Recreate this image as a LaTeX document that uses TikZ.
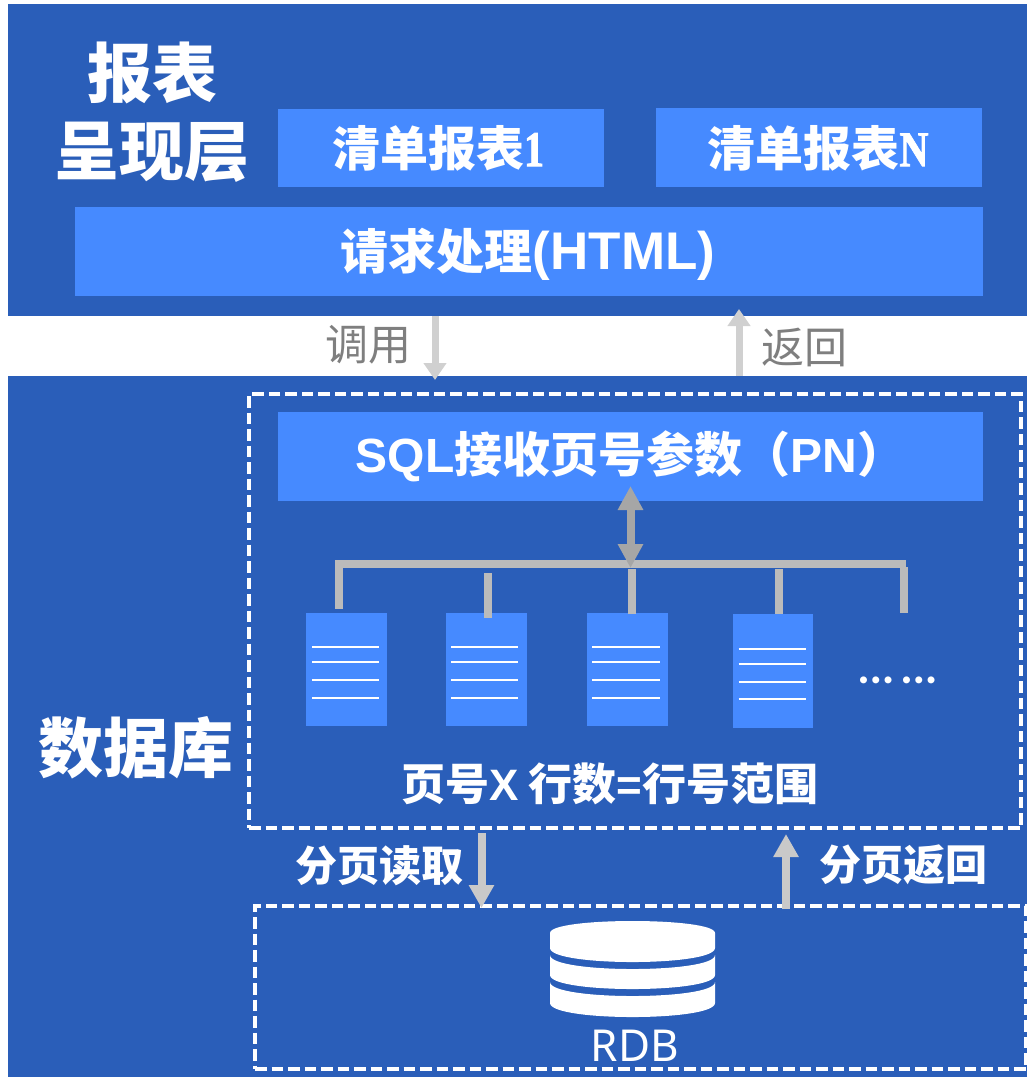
\documentclass[tikz,border=0pt]{standalone}
\usepackage{fontspec}
\usetikzlibrary{arrows.meta}
\setmainfont{Noto Sans CJK SC}
\newfontfamily\latsans{Liberation Sans}
\newfontfamily\latserif[BoldFont={Liberation Serif Bold},BoldFeatures={FakeStretch=0.8,FakeBold=1.5}]{Liberation Serif}
\newfontfamily\rdbfont{Noto Sans}
\newfontfamily\dotfont{Lato}
\definecolor{darkblue}{HTML}{2A5EB9}
\definecolor{lightblue}{HTML}{468AFF}
\definecolor{arrowgrey}{HTML}{C9C9C9}
\definecolor{lightgrey}{HTML}{D0D0D0}
\definecolor{busgrey}{HTML}{BBBBBB}
\definecolor{dblgrey}{HTML}{A6A6A6}
\definecolor{labelgrey}{HTML}{7F7F7F}
\newcommand{\fsz}[1]{\fontsize{#1}{#1}\selectfont}
\tikzset{
  x=1pt,y=-1pt,
  layer/.style={fill=darkblue,draw=none,inner sep=0pt},
  lightbox/.style={fill=lightblue,draw=none,inner sep=0pt,text=white,font=\fsz{48}\bfseries},
  pagebox/.style={fill=lightblue,draw=none,inner sep=0pt,minimum width=81pt,minimum height=113pt},
  pageline/.style={draw=white,line width=2pt},
  dashbox/.style={draw=white,line width=4pt,dash pattern=on 11.5pt off 5pt,fill=none,inner sep=0pt},
  wtitle/.style={text=white,inner sep=0pt,align=center,font=\fsz{65}\bfseries},
  wlabel/.style={text=white,inner sep=0pt,font=\fsz{42}\bfseries},
  glabel/.style={text=labelgrey,inner sep=0pt,font=\fsz{43}},
  flow/.style={draw=arrowgrey,line width=8pt,-{Triangle[length=23pt,width=24pt]}},
  topflow/.style={draw=lightgrey,line width=7pt,-{Triangle[length=17pt,width=22pt]}},
  dbl/.style={draw=dblgrey,line width=8pt,{Triangle[length=24pt,width=24pt]}-{Triangle[length=24pt,width=24pt]}},
  bus/.style={draw=busgrey,line width=8pt},
}
\begin{document}
\begin{tikzpicture}
\useasboundingbox (0,0) rectangle (1027,1077);
\fill[white] (0,0) rectangle (1027,1077);

% layers
\node[layer,minimum width=1019pt,minimum height=312pt] (top) at (517.5,160) {};
\node[layer,minimum width=1019pt,minimum height=701pt] (low) at (517.5,726.5) {};

% top layer
\node[wtitle,font=\fontsize{65}{78}\selectfont\bfseries] (title) at (152,112) {报表\\呈现层};
\node[fill=lightblue,minimum width=326pt,minimum height=78pt,inner sep=0pt] (r1) at (441,148) {};
\node[fill=lightblue,minimum width=326pt,minimum height=79pt,inner sep=0pt] (rn) at (819,147.5) {};
\node[text=white,inner sep=0pt,font=\fsz{48}\bfseries] (r1t) at (438,148) {清单报表{\latserif\fsz{50}1}};
\node[text=white,inner sep=0pt,font=\fsz{48}\bfseries] (rnt) at (818,148) {清单报表{\latserif\fsz{50}N}};
\node[fill=lightblue,minimum width=908pt,minimum height=89pt,inner sep=0pt] (req) at (529,251.5) {};
\node[text=white,inner sep=0pt,font=\fsz{48}\bfseries] (reqt) at (528,254) {请求处理{\latsans\fontsize{53}{53}\selectfont (HTML)}};

% database layer
\node[wtitle] (db) at (136,748) {数据库};
\node[dashbox,minimum width=772pt,minimum height=434pt] (pagingbox) at (635,611) {};
\node[dashbox,minimum width=771pt,minimum height=163pt] (rdbbox) at (640.5,987.5) {};
\node[lightbox,minimum width=705pt,minimum height=89pt] (sql) at (630.5,456.5) {{\latsans SQL}接收页号参数（{\latsans PN}）};

% pages
\node[pagebox] (p1) at (346.5,669.5) {};
\node[pagebox] (p2) at (486.5,669.5) {};
\node[pagebox] (p3) at (627.5,669.5) {};
\node[pagebox,minimum width=80pt,minimum height=114pt] (p4) at (773,671) {};
\foreach \y in {647,662.3,680,698} {
  \draw[pageline] (312,\y) -- (379,\y);
  \draw[pageline] (451,\y) -- (518,\y);
  \draw[pageline] (592,\y) -- (660,\y);
}
\foreach \y in {649,664,682,699} {
  \draw[pageline] (738.5,\y) -- (806,\y);
}
\node[text=white,inner sep=0pt,font=\fsz{46}\dotfont\bfseries] (dots) at (898,680) {…\,…};
\node[wlabel,font=\fsz{44}\bfseries] (range) at (610,784) {页号{\latsans X} 行数{\latsans =}行号范围};

% bus
\coordinate (busL) at (335,564);
\coordinate (busR) at (906,564);
\coordinate (b1) at (338.5,563);
\coordinate (e1) at (338.5,609);
\coordinate (b2) at (488,573);
\coordinate (e2) at (488,618);
\coordinate (b3) at (631.5,569);
\coordinate (e3) at (631.5,614);
\coordinate (b4) at (779,569);
\coordinate (e4) at (779,614);
\coordinate (b5) at (904,567);
\coordinate (e5) at (904,613);
\draw[bus] (busL) -- (busR);
\draw[bus] (b1) -- (e1);
\draw[bus] (b2) -- (e2);
\draw[bus] (b3) -- (e3);
\draw[bus] (b4) -- (e4);
\draw[bus] (b5) -- (e5);
\coordinate (dblT) at (630.5,486);
\coordinate (dblB) at (630.5,568);
\draw[dbl] (dblT) -- (dblB);

% flows between layers
\coordinate (callS) at (435,316);
\coordinate (callE) at (435,380);
\coordinate (retS) at (739,376);
\coordinate (retE) at (739,309);
\draw[topflow] (callS) -- (callE);
\draw[topflow] (retS) -- (retE);
\node[glabel] (call) at (368,345) {调用};
\node[glabel] (ret) at (804,347) {返回};

% flows to RDB
\coordinate (readS) at (481.5,833);
\coordinate (readE) at (481.5,908);
\coordinate (backS) at (786,909);
\coordinate (backE) at (786,834);
\draw[flow] (readS) -- (readE);
\draw[flow] (backS) -- (backE);
\node[wlabel] (readl) at (379,866) {分页读取};
\node[wlabel] (backl) at (903,865) {分页返回};

% database icon
\fill[white] (550,933) .. controls (550,917) and (715,917) .. (715,933) -- (715,948) .. controls (715,966.7) and (550,966.7) .. (550,948) -- cycle;
\fill[white] (550,955) .. controls (550,973.7) and (715,973.7) .. (715,955) -- (715,975) .. controls (715,993.7) and (550,993.7) .. (550,975) -- cycle;
\fill[white] (550,982) .. controls (550,1000.7) and (715,1000.7) .. (715,982) -- (715,1003) .. controls (715,1021.7) and (550,1021.7) .. (550,1003) -- cycle;
\node[text=white,inner sep=0pt,font=\fsz{44}\rdbfont] (rdb) at (635,1046) {RDB};
\end{tikzpicture}
\end{document}
